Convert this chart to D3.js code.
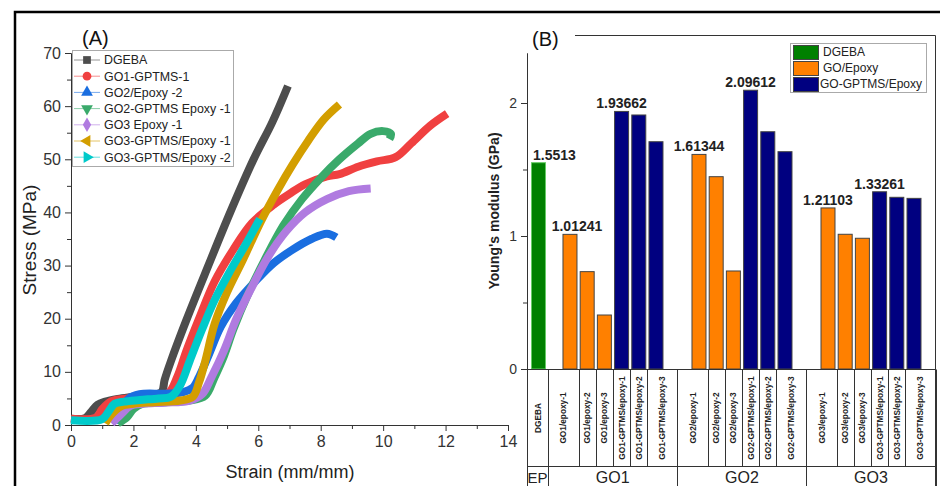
<!DOCTYPE html>
<html>
<head>
<meta charset="utf-8">
<script src="https://cdn.jsdelivr.net/npm/d3@7"></script>
<style>
  body { margin: 0; background: #fff; }
  svg { font-family: Arial, "Liberation Sans", sans-serif; }
</style>
</head>
<body>
<div id="chart"></div>
<script>
// ---- panel A : stress-strain curves, [strain, stress] ----
var dgeba = [[0,1.2],[0.45,1.3],[0.65,2.5],[0.85,3.8],[1.1,4.4],[1.5,4.9],[2,5.3],[2.5,5.7],[2.9,6.2],[3.0,8.5],[3.2,12],[3.7,19.8],[4.4,30],[5.1,40],[5.85,50],[6.45,57],[6.95,63.8]];
var go1Gptms1 = [[0,1.2],[0.8,1.4],[1.0,3],[1.3,4.5],[1.8,5],[2.5,5.4],[3.1,5.9],[3.4,9],[3.7,14],[4.1,20],[4.6,27],[5.2,33],[5.8,38],[6.5,41.5],[7,43.5],[7.5,45.3],[8.2,46.8],[8.6,47.2],[9.2,48.6],[9.8,49.6],[10.4,50.4],[10.9,53],[11.5,56.3],[12.05,58.6]];
var go2Epoxy2 = [[1.4,0.5],[1.6,2.5],[1.85,5],[2.2,5.8],[3,5.9],[3.6,6.2],[3.9,7],[4.1,9],[4.4,13],[4.8,18.5],[5.3,23],[5.9,27],[6.5,30.5],[7.1,33],[7.7,35],[8.2,36],[8.5,35.3]];
var go2GptmsEpoxy1 = [[1.5,0.3],[1.8,1.5],[2.0,3],[2.3,4],[3,4.3],[3.8,4.6],[4.3,5.5],[4.6,9],[4.9,13],[5.2,18],[5.7,25],[6.2,31],[6.8,37.5],[7.4,42.5],[8,46.5],[8.6,50],[9.2,53],[9.6,54.8],[10.0,55.3],[10.25,54.8],[10.2,53.8]];
var go3Epoxy1 = [[1.3,0.3],[1.6,2],[1.9,3.6],[2.3,4],[3,4.2],[3.8,4.6],[4.2,5.8],[4.5,9],[4.9,14],[5.3,20],[5.8,26],[6.3,31.5],[6.9,36.5],[7.5,40],[8.2,42.5],[8.9,44],[9.6,44.5]];
var go3GptmsEpoxy1 = [[1.1,0.3],[1.3,2],[1.6,3.5],[2,4],[2.7,4.3],[3.5,4.6],[3.9,5.3],[4.1,8],[4.3,12],[4.6,19],[5.0,25],[5.5,31],[6.1,38.5],[6.6,44],[7.1,49],[7.6,53.5],[8.1,57.5],[8.6,60.3]];
var go3GptmsEpoxy2 = [[0,0.9],[1.0,1.1],[1.2,2.5],[1.4,4],[1.7,4.4],[2.2,4.7],[2.8,5],[3.2,5.3],[3.5,7.5],[3.8,12],[4.2,18],[4.6,23.5],[5.1,29],[5.6,34],[6.05,38.8]];

var curveNames = ["DGEBA", "GO1-GPTMS-1", "GO2/Epoxy -2", "GO2-GPTMS Epoxy -1", "GO3 Epoxy -1", "GO3-GPTMS/Epoxy -1", "GO3-GPTMS/Epoxy -2"];
var curveData = [dgeba, go1Gptms1, go2Epoxy2, go2GptmsEpoxy1, go3Epoxy1, go3GptmsEpoxy1, go3GptmsEpoxy2];
var strainTicks = [0, 2, 4, 6, 8, 10, 12, 14];
var stressTicks = [0, 10, 20, 30, 40, 50, 60, 70];

// ---- panel B : Young's modulus bars ----
var barNames = ["DGEBA",
  "GO1/epoxy-1", "GO1/epoxy-2", "GO1/epoxy-3", "GO1-GPTMS/epoxy-1", "GO1-GPTMS/epoxy-2", "GO1-GPTMS/epoxy-3",
  "GO2/epoxy-1", "GO2/epoxy-2", "GO2/epoxy-3", "GO2-GPTMS/epoxy-1", "GO2-GPTMS/epoxy-2", "GO2-GPTMS/epoxy-3",
  "GO3/epoxy-1", "GO3/epoxy-2", "GO3/epoxy-3", "GO3-GPTMS/epoxy-1", "GO3-GPTMS/epoxy-2", "GO3-GPTMS/epoxy-3"];
var barGroups = ["EP", "GO1","GO1","GO1","GO1","GO1","GO1", "GO2","GO2","GO2","GO2","GO2","GO2", "GO3","GO3","GO3","GO3","GO3","GO3"];
var barTypes = ["DGEBA", "GO/Epoxy","GO/Epoxy","GO/Epoxy","GO-GPTMS/Epoxy","GO-GPTMS/Epoxy","GO-GPTMS/Epoxy",
  "GO/Epoxy","GO/Epoxy","GO/Epoxy","GO-GPTMS/Epoxy","GO-GPTMS/Epoxy","GO-GPTMS/Epoxy",
  "GO/Epoxy","GO/Epoxy","GO/Epoxy","GO-GPTMS/Epoxy","GO-GPTMS/Epoxy","GO-GPTMS/Epoxy"];
var barValues = [1.5513, 1.01241, 0.732, 0.406, 1.93662, 1.91, 1.709, 1.61344, 1.446, 0.737, 2.09612, 1.784, 1.634, 1.21103, 1.013, 0.983, 1.33261, 1.291, 1.283];
var labelledBars = ["DGEBA", "GO1/epoxy-1", "GO1-GPTMS/epoxy-1", "GO2/epoxy-1", "GO2-GPTMS/epoxy-1", "GO3/epoxy-1", "GO3-GPTMS/epoxy-1"];
var groupNames = ["EP", "GO1", "GO2", "GO3"];
var legendTypes = ["DGEBA", "GO/Epoxy", "GO-GPTMS/Epoxy"];
var modulusTicks = [0, 1, 2];

// styles
var curveColors = ["#4d4d4d", "#f04040", "#1a6ee0", "#3aaa6b", "#b07be0", "#d39e00", "#00caca"];
var curveSymbols = [d3.symbolSquare, d3.symbolCircle, d3.symbolTriangle, d3.symbolTriangle, d3.symbolDiamond, d3.symbolTriangle, d3.symbolTriangle];
var symbolRotate = [0, 0, 0, 180, 0, -90, 90];
var typeColors = {"DGEBA": "#008000", "GO/Epoxy": "#ff8000", "GO-GPTMS/Epoxy": "#000080"};

var W = 940, H = 486;
var svg = d3.select("#chart").append("svg").attr("width", W).attr("height", H);

// outer frame (top + left)
svg.append("path").attr("d", "M15," + H + "V12H" + W)
  .attr("fill", "none").attr("stroke", "#000").attr("stroke-width", 2.5);

// ================= panel A =================
var x = d3.scaleLinear().domain([0, 14]).range([71, 508]);
var y = d3.scaleLinear().domain([0, 70]).range([425, 53]);

var gA = svg.append("g");

gA.append("g").attr("transform", "translate(0,425)")
  .call(d3.axisBottom(x).tickValues(d3.range(1, 14, 2)).tickSize(4).tickFormat("").tickSizeOuter(0));
gA.append("g").attr("transform", "translate(71,0)")
  .call(d3.axisLeft(y).tickValues(d3.range(5, 70, 10)).tickSize(4).tickFormat("").tickSizeOuter(0));

var xAxis = gA.append("g").attr("transform", "translate(0,425)")
  .call(d3.axisBottom(x).tickValues(strainTicks).tickSize(6).tickPadding(5).tickSizeOuter(0));
var yAxis = gA.append("g").attr("transform", "translate(71,0)")
  .call(d3.axisLeft(y).tickValues(stressTicks).tickSize(6).tickPadding(4).tickSizeOuter(0));
[xAxis, yAxis].forEach(function(a) {
  a.selectAll("text").attr("font-size", "16px").attr("fill", "#333").attr("font-family", "Arial, Liberation Sans");
});
gA.selectAll(".domain, .tick line").attr("stroke", "#333");

gA.append("text").attr("x", 290).attr("y", 478).attr("text-anchor", "middle")
  .attr("font-size", "18px").attr("fill", "#222").text("Strain (mm/mm)");
gA.append("text").attr("transform", "translate(36,240) rotate(-90)").attr("text-anchor", "middle")
  .attr("font-size", "19px").attr("fill", "#222").text("Stress (MPa)");
gA.append("text").attr("x", 82).attr("y", 45).attr("font-size", "20px").attr("fill", "#111").text("(A)");

var line = d3.line()
  .x(function(d) { return x(d[0]); })
  .y(function(d) { return y(d[1]); })
  .curve(d3.curveCatmullRom.alpha(0.5));

gA.selectAll("path.curve")
  .data(curveData)
  .enter()
  .append("path")
    .attr("class", "curve")
    .attr("d", line)
    .attr("fill", "none")
    .attr("stroke", function(d, i) { return curveColors[i]; })
    .attr("stroke-width", 8)
    .attr("stroke-linejoin", "round");

// legend A
var legA = gA.append("g");
legA.append("rect").attr("x", 72.5).attr("y", 50.5).attr("width", 161).attr("height", 116)
  .attr("fill", "#fff").attr("stroke", "#aaa");
curveNames.forEach(function(name, i) {
  var cy = 60 + i * 16.2;
  legA.append("line").attr("x1", 74).attr("x2", 100).attr("y1", cy).attr("y2", cy)
    .attr("stroke", curveColors[i]).attr("stroke-opacity", 0.6).attr("stroke-width", 1);
  legA.append("path")
    .attr("transform", "translate(87," + cy + ") rotate(" + symbolRotate[i] + ")")
    .attr("d", d3.symbol().type(curveSymbols[i]).size(60))
    .attr("fill", curveColors[i]);
  legA.append("text").attr("x", 104).attr("y", cy).attr("dy", "0.35em")
    .attr("font-size", "12.4px").attr("fill", "#222").text(name);
});

// ================= panel B =================
var gB = svg.append("g");
var yB = d3.scaleLinear().domain([0, 2.376]).range([369, 53]);

// slot of each bar along the category axis (groups are spaced apart)
var groupStart = {"EP": 0, "GO1": 1.83, "GO2": 9.33, "GO3": 16.83};
var slots = barNames.map(function(n, i) {
  var first = barGroups.indexOf(barGroups[i]);
  return groupStart[barGroups[i]] + (i - first);
});
var xB = d3.scaleLinear().domain([0, 21.83]).range([538.5, 914]);
var barW = 14;

// frame pieces
gB.append("path").attr("d", "M575,35.5H935.5V" + H)
  .attr("fill", "none").attr("stroke", "#333").attr("stroke-width", 1);

var yAxB = gB.append("g").attr("transform", "translate(527,0)")
  .call(d3.axisLeft(yB).tickValues([0.5, 1.5]).tickSize(4).tickFormat("").tickSizeOuter(0));
var yAxB2 = gB.append("g").attr("transform", "translate(527,0)")
  .call(d3.axisLeft(yB).tickValues(modulusTicks).tickSize(6).tickPadding(4)
    .tickFormat(d3.format("d")).tickSizeOuter(0));
yAxB2.selectAll("text").attr("font-size", "14px").attr("fill", "#333").attr("font-family", "Arial, Liberation Sans");
gB.selectAll(".domain, .tick line").attr("stroke", "#333");

gB.append("text").attr("transform", "translate(499,211) rotate(-90)").attr("text-anchor", "middle")
  .attr("font-size", "14px").attr("font-weight", "bold").attr("fill", "#222").text("Young's modulus (GPa)");
gB.append("text").attr("x", 532).attr("y", 46).attr("font-size", "20px").attr("fill", "#111").text("(B)");

gB.selectAll("rect.bar")
  .data(barValues)
  .enter()
  .append("rect")
    .attr("class", "bar")
    .attr("x", function(d, i) { return xB(slots[i]) - barW / 2; })
    .attr("y", function(d) { return yB(d); })
    .attr("width", barW)
    .attr("height", function(d) { return yB(0) - yB(d); })
    .attr("fill", function(d, i) { return typeColors[barTypes[i]]; })
    .attr("stroke", function(d, i) { return barTypes[i] == "DGEBA" ? "#6c6" : "#444"; })
    .attr("stroke-width", 1);

// value labels
labelledBars.forEach(function(n) {
  var i = barNames.indexOf(n);
  var cx = xB(slots[i]);
  if (i == 0) cx += 16;      // pushed right of the axis
  else if (i == 1) cx += 7;
  gB.append("text").attr("x", cx).attr("y", yB(barValues[i]) - 3)
    .attr("text-anchor", "middle").attr("font-size", "14px").attr("font-weight", "bold")
    .attr("fill", "#222").text(String(barValues[i]));
});

// category table under the axis
var bounds = [527];
for (var i = 1; i < barNames.length; i++) {
  if (i == 1) bounds.push(xB(slots[0]) + 9.5);
  else bounds.push((xB(slots[i - 1]) + xB(slots[i])) / 2);
}
bounds.push(935.5);

var tbl = gB.append("g").attr("stroke", "#333").attr("stroke-width", 1);
tbl.append("line").attr("x1", 527).attr("x2", 935.5).attr("y1", 369.5).attr("y2", 369.5);
tbl.append("line").attr("x1", 527).attr("x2", 935.5).attr("y1", 466.5).attr("y2", 466.5);
bounds.forEach(function(b, i) {
  var isGroupEdge = i == 0 || i == bounds.length - 1 || barGroups[i] != barGroups[i - 1];
  tbl.append("line").attr("x1", Math.round(b) + 0.5).attr("x2", Math.round(b) + 0.5)
    .attr("y1", 369.5).attr("y2", isGroupEdge ? H : 466.5);
});

barNames.forEach(function(n, i) {
  var cx = (bounds[i] + bounds[i + 1]) / 2;
  gB.append("text")
    .attr("transform", "translate(" + (cx + 3) + ",418) rotate(-90)")
    .attr("text-anchor", "middle").attr("font-size", "8.3px").attr("font-weight", "bold")
    .attr("fill", "#222").text(n);
});

groupNames.forEach(function(g) {
  var first = barGroups.indexOf(g), last = barGroups.lastIndexOf(g);
  var cx = (bounds[first] + bounds[last + 1]) / 2;
  gB.append("text").attr("x", cx).attr("y", 483).attr("text-anchor", "middle")
    .attr("font-size", g == "EP" ? "15px" : "16px").attr("fill", "#222").text(g);
});

// legend B
var legB = gB.append("g");
legB.append("rect").attr("x", 790.5).attr("y", 43.5).attr("width", 136).attr("height", 49)
  .attr("fill", "#fff").attr("stroke", "#aaa");
legendTypes.forEach(function(t, i) {
  var cy = 52 + i * 16;
  legB.append("rect").attr("x", 793.5).attr("y", cy - 6.5).attr("width", 25).attr("height", 14)
    .attr("fill", typeColors[t]).attr("stroke", "#444");
  legB.append("text").attr("x", i == 2 ? 820 : 823).attr("y", cy).attr("dy", "0.35em")
    .attr("font-size", "12px").attr("fill", "#222").text(t);
});
</script>
</body>
</html>
